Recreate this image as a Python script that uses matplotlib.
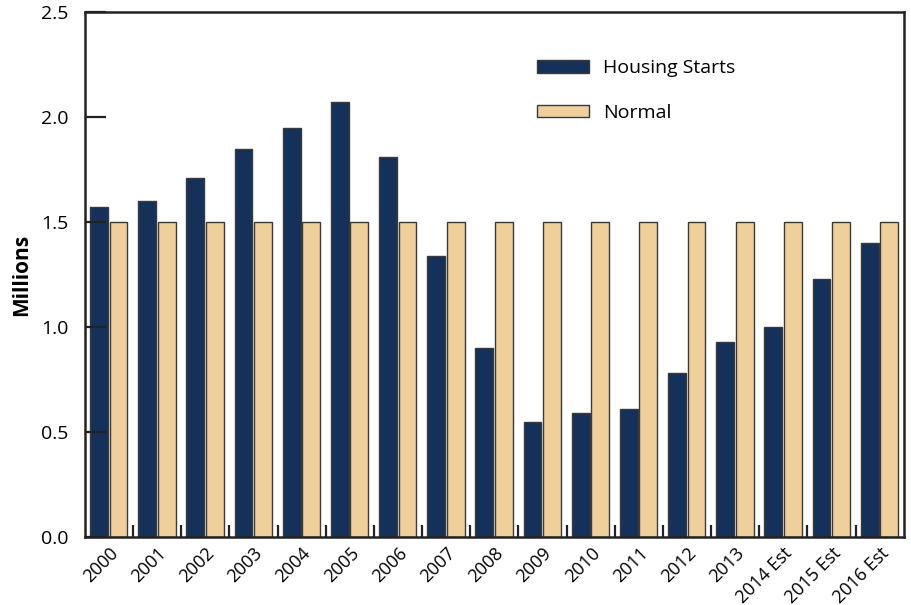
import numpy as np
import matplotlib.pyplot as plt
from matplotlib.ticker import MultipleLocator, FixedLocator

years = ['2000', '2001', '2002', '2003', '2004', '2005', '2006', '2007', '2008',
         '2009', '2010', '2011', '2012', '2013', '2014 Est', '2015 Est', '2016 Est']
housing_starts = [1.57, 1.60, 1.71, 1.85, 1.95, 2.07, 1.81, 1.34, 0.90,
                  0.55, 0.59, 0.61, 0.78, 0.93, 1.00, 1.23, 1.40]
normal = [1.5] * len(years)

dark = '#15315a'
tan = '#efcf9b'
edge = '#3a3a3a'

plt.rcParams['font.family'] = ['Open Sans', 'DejaVu Sans']

fig = plt.figure(figsize=(9.12, 6.05), dpi=100)
ax = fig.add_axes([0.0932, 0.1124, 0.8978, 0.8676])

x = np.arange(len(years))
w = 0.37
ax.bar(x - 0.21, housing_starts, w, color=dark, edgecolor=edge, linewidth=1,
       label='Housing Starts')
ax.bar(x + 0.195, normal, w, color=tan, edgecolor=edge, linewidth=1,
       label='Normal')

ax.set_xlim(-0.5, len(years) - 0.5)
ax.set_ylim(0, 2.5)
ax.yaxis.set_major_locator(MultipleLocator(0.5))
ax.yaxis.set_major_formatter(plt.FuncFormatter(lambda v, p: f'{v:.1f}'))

ax.set_xticks(x)
ax.set_xticklabels(years, rotation=45, ha='right', rotation_mode='anchor')
ax.xaxis.set_minor_locator(FixedLocator(x[:-1] + 0.5))
ax.tick_params(axis='x', which='major', length=0, pad=5, labelsize=13)
ax.tick_params(axis='x', which='minor', direction='in', length=9, width=1.6,
               color='#222222')
ax.tick_params(axis='y', direction='in', length=15, width=1.6, color='#222222',
               labelsize=14, pad=12)

for s in ax.spines.values():
    s.set_linewidth(1.8)
    s.set_color('#222222')

ax.set_ylabel('Millions', fontsize=15, fontweight='bold', labelpad=6)

ax.legend(loc='upper left', bbox_to_anchor=(0.552, 0.91), frameon=False,
          fontsize=14, handlelength=2.7, handleheight=0.6, handletextpad=0.7,
          labelspacing=1.35, borderpad=0, borderaxespad=0)

fig.savefig('out.png', dpi=100)
